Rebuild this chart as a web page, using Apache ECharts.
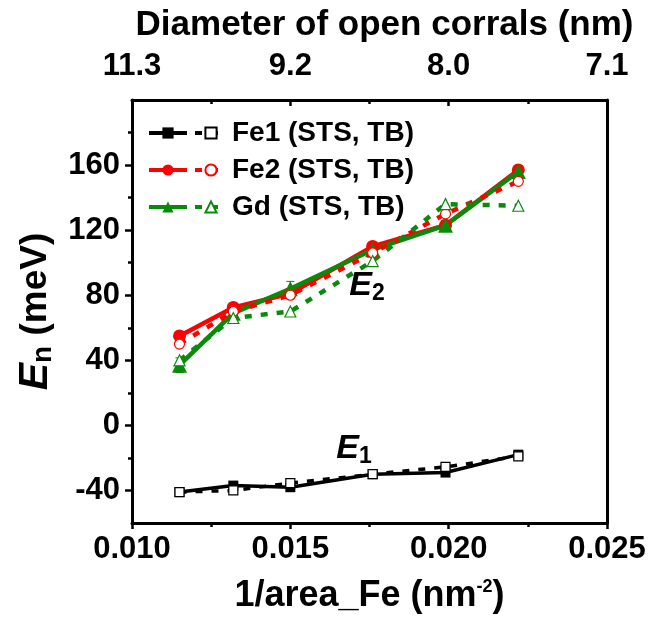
<!DOCTYPE html>
<html>
<head>
<meta charset="utf-8">
<script src="https://cdn.jsdelivr.net/npm/echarts@6/dist/echarts.min.js"></script>
<style>
  html, body { margin: 0; padding: 0; background: #fff; }
  #chart { width: 654px; height: 619px; }
</style>
</head>
<body>
<div id="chart"></div>
<script>
// Inverse corral area (nm^-2) for each measured open corral
const invArea = [0.0115, 0.0132, 0.0150, 0.0176, 0.0199, 0.0222];

// Resonance energies (meV): STS measurement and TB calculation
const fe1STS = [-41, -37, -38, -30, -29, -18];
const fe1TB  = [-41, -40, -35.5, -30, -25.5, -19];
const fe2STS = [55, 72.5, 81, 110, 123, 157];
const fe2TB  = [50, 70, 80, 106, 130, 150];
const gdSTS  = [37, 69, 84, 108, 123, 156];
const gdTB   = [40, 66, 70, 101, 136, 135];

// Error bars on STS values (meV)
const fe1Err = [1.5, 1.5, 1.5, 1.5, 1.5, 1.5];
const fe2Err = [2, 2, 2, 2, 2, 2];
const gdErr  = [4.5, 4.5, 4.5, 4.5, 3, 3];

// Top axis: corral diameter (nm) at the bottom axis major ticks
const diamLabels = ['11.3', '9.2', '8.0', '7.1'];
const xMin = 0.010, xMax = 0.025, xStep = 0.005;

// Left axis tick values
const yMajor = [-40, 0, 40, 80, 120, 160];
const yMinor = [-20, 20, 60, 100, 140, 180];

const legendLabels = {
  'Fe1 TB': 'Fe1 (STS, TB)',
  'Fe2 TB': 'Fe2 (STS, TB)',
  'Gd TB': 'Gd (STS, TB)'
};

const BLACK = '#000000', RED = '#ff0000', GREEN = '#0a8a0a';
const FONT = '"Liberation Sans", Arial, sans-serif';

function pairs(ys) { return invArea.map((x, i) => [x, ys[i]]); }

function stsSeries(name, ys, color, symbol, size, width) {
  return {
    name, type: 'line', data: pairs(ys), symbol, symbolSize: size,
    itemStyle: { color },
    lineStyle: { color, width, type: 'solid' },
    z: 3, animation: false
  };
}
function tbSeries(name, ys, color, symbol, size, width) {
  return {
    name, type: 'line', data: pairs(ys), symbol, symbolSize: size,
    itemStyle: { color: '#ffffff', borderColor: color, borderWidth: 1.2 },
    lineStyle: { color, width, type: [7, 9] },
    z: 4, animation: false
  };
}
function errSeries(ys, errs, color) {
  return {
    type: 'custom', silent: true, z: 2, animation: false,
    data: invArea.map((x, i) => [x, ys[i] - errs[i], ys[i] + errs[i]]),
    renderItem(params, api) {
      const lo = api.coord([api.value(0), api.value(1)]);
      const hi = api.coord([api.value(0), api.value(2)]);
      const w = 4;
      const st = { stroke: color, lineWidth: 1 };
      return { type: 'group', children: [
        { type: 'line', shape: { x1: lo[0], y1: lo[1], x2: hi[0], y2: hi[1] }, style: st },
        { type: 'line', shape: { x1: lo[0] - w, y1: lo[1], x2: lo[0] + w, y2: lo[1] }, style: st },
        { type: 'line', shape: { x1: hi[0] - w, y1: hi[1], x2: hi[0] + w, y2: hi[1] }, style: st }
      ]};
    }
  };
}

const tickFont = { color: BLACK, fontFamily: FONT, fontWeight: 'bold', fontSize: 31 };
const frameLine = { show: true, onZero: false, lineStyle: { color: BLACK, width: 3 } };
const legendText = { color: BLACK, fontFamily: FONT, fontWeight: 'bold', fontSize: 28 };

const chart = echarts.init(document.getElementById('chart'), null, { renderer: 'canvas' });

const option = {
  backgroundColor: '#ffffff',
  animation: false,
  grid: { left: 132, right: 47, top: 100, bottom: 96 },
  legend: [
    {
      data: ['Fe1 STS', 'Fe2 STS', 'Gd STS'],
      orient: 'vertical', left: 142, top: 114,
      itemWidth: 38, itemHeight: 14, itemGap: 9,
      formatter: () => ' ', selectedMode: false,
      lineStyle: { width: 4 },
      textStyle: legendText
    },
    {
      data: ['Fe1 TB', 'Fe2 TB', 'Gd TB'],
      orient: 'vertical', left: 188, top: 114,
      itemWidth: 32, itemHeight: 14, itemGap: 9,
      formatter: (n) => legendLabels[n], selectedMode: false,
      lineStyle: { width: 4 },
      textStyle: legendText
    }
  ],
  xAxis: [
    {
      type: 'value', position: 'bottom', min: xMin, max: xMax, interval: xStep,
      axisLine: frameLine,
      axisTick: { show: true, length: 6, lineStyle: { width: 2.5, color: BLACK } },
      minorTick: { show: true, splitNumber: 2, length: 4, lineStyle: { width: 2.5, color: BLACK } },
      splitLine: { show: false },
      axisLabel: Object.assign({ margin: 11, formatter: (v) => v.toFixed(3) }, tickFont),
      name: '{t|1/area_Fe (nm}{sup|-2}{t|)}',
      nameLocation: 'middle', nameGap: 55,
      nameTextStyle: {
        rich: {
          t: { color: BLACK, fontFamily: FONT, fontWeight: 'bold', fontSize: 36 },
          sup: { color: BLACK, fontFamily: FONT, fontWeight: 'bold', fontSize: 18, verticalAlign: 'top', padding: [0, 0, 17, 0] }
        }
      }
    },
    {
      type: 'value', position: 'top', min: xMin, max: xMax, interval: xStep,
      axisLine: frameLine,
      axisTick: { show: true, inside: true, length: 6, lineStyle: { width: 2.5, color: BLACK } },
      minorTick: { show: true, splitNumber: 2, length: 4, lineStyle: { width: 2.5, color: BLACK } },
      splitLine: { show: false },
      axisLabel: Object.assign({
        margin: 18,
        formatter: (v) => diamLabels[Math.round((v - xMin) / xStep)] || ''
      }, tickFont),
      name: 'Diameter of open corrals (nm)',
      nameLocation: 'middle', nameGap: 57,
      nameTextStyle: { color: BLACK, fontFamily: FONT, fontWeight: 'bold', fontSize: 35, padding: [0, 0, 0, 30] }
    }
  ],
  yAxis: [
    {
      type: 'value', position: 'left', min: -60, max: 200, interval: 20,
      axisLine: frameLine,
      axisTick: { show: true, length: 7, customValues: yMajor, lineStyle: { width: 2.5, color: BLACK } },
      splitLine: { show: false },
      axisLabel: Object.assign({ margin: 12, customValues: yMajor }, tickFont),
      name: '{e|E}{s|n}{t| (meV)}',
      nameLocation: 'middle', nameGap: 72, nameRotate: 90,
      nameTextStyle: {
        rich: {
          e: { color: BLACK, fontFamily: FONT, fontWeight: 'bold', fontStyle: 'italic', fontSize: 41 },
          s: { color: BLACK, fontFamily: FONT, fontWeight: 'bold', fontSize: 28, verticalAlign: 'bottom', padding: [15, 0, 0, 0] },
          t: { color: BLACK, fontFamily: FONT, fontWeight: 'bold', fontSize: 37 }
        }
      }
    },
    {
      type: 'value', position: 'left', min: -60, max: 200, interval: 20,
      axisLine: { show: false, onZero: false },
      axisTick: { show: true, length: 4, customValues: yMinor, lineStyle: { width: 2.5, color: BLACK } },
      axisLabel: { show: false },
      splitLine: { show: false }
    },
    {
      type: 'value', position: 'right', min: -60, max: 200, interval: 20,
      axisLine: frameLine,
      axisTick: { show: false }, axisLabel: { show: false }, splitLine: { show: false }
    }
  ],
  series: [
    errSeries(fe1STS, fe1Err, BLACK),
    errSeries(fe2STS, fe2Err, RED),
    errSeries(gdSTS, gdErr, GREEN),
    stsSeries('Fe1 STS', fe1STS, BLACK, 'rect', 10, 3.5),
    stsSeries('Fe2 STS', fe2STS, RED, 'circle', 13, 4.5),
    stsSeries('Gd STS', gdSTS, GREEN, 'triangle', 15, 4.5),
    tbSeries('Fe1 TB', fe1TB, BLACK, 'rect', 9, 3.5),
    tbSeries('Fe2 TB', fe2TB, RED, 'circle', 10, 4.5),
    tbSeries('Gd TB', gdTB, GREEN, 'triangle', 11, 4.5)
  ]
};

chart.setOption(option);

// Level labels E1 / E2 next to their branches
const levelNotes = [
  { text: '2', at: [0.01742, 86] },
  { text: '1', at: [0.01701, -14] }
];
chart.setOption({
  graphic: levelNotes.map((n) => {
    const p = chart.convertToPixel({ xAxisIndex: 0, yAxisIndex: 0 }, n.at);
    return {
      type: 'text', x: p[0], y: p[1], z: 10,
      style: {
        text: '{e|E}{s|' + n.text + '}',
        align: 'center', verticalAlign: 'middle',
        rich: {
          e: { fill: BLACK, fontFamily: FONT, fontWeight: 'bold', fontStyle: 'italic', fontSize: 34 },
          s: { fill: BLACK, fontFamily: FONT, fontWeight: 'bold', fontSize: 23, verticalAlign: 'bottom', padding: [17, 0, 0, 0] }
        }
      }
    };
  })
});
</script>
</body>
</html>
